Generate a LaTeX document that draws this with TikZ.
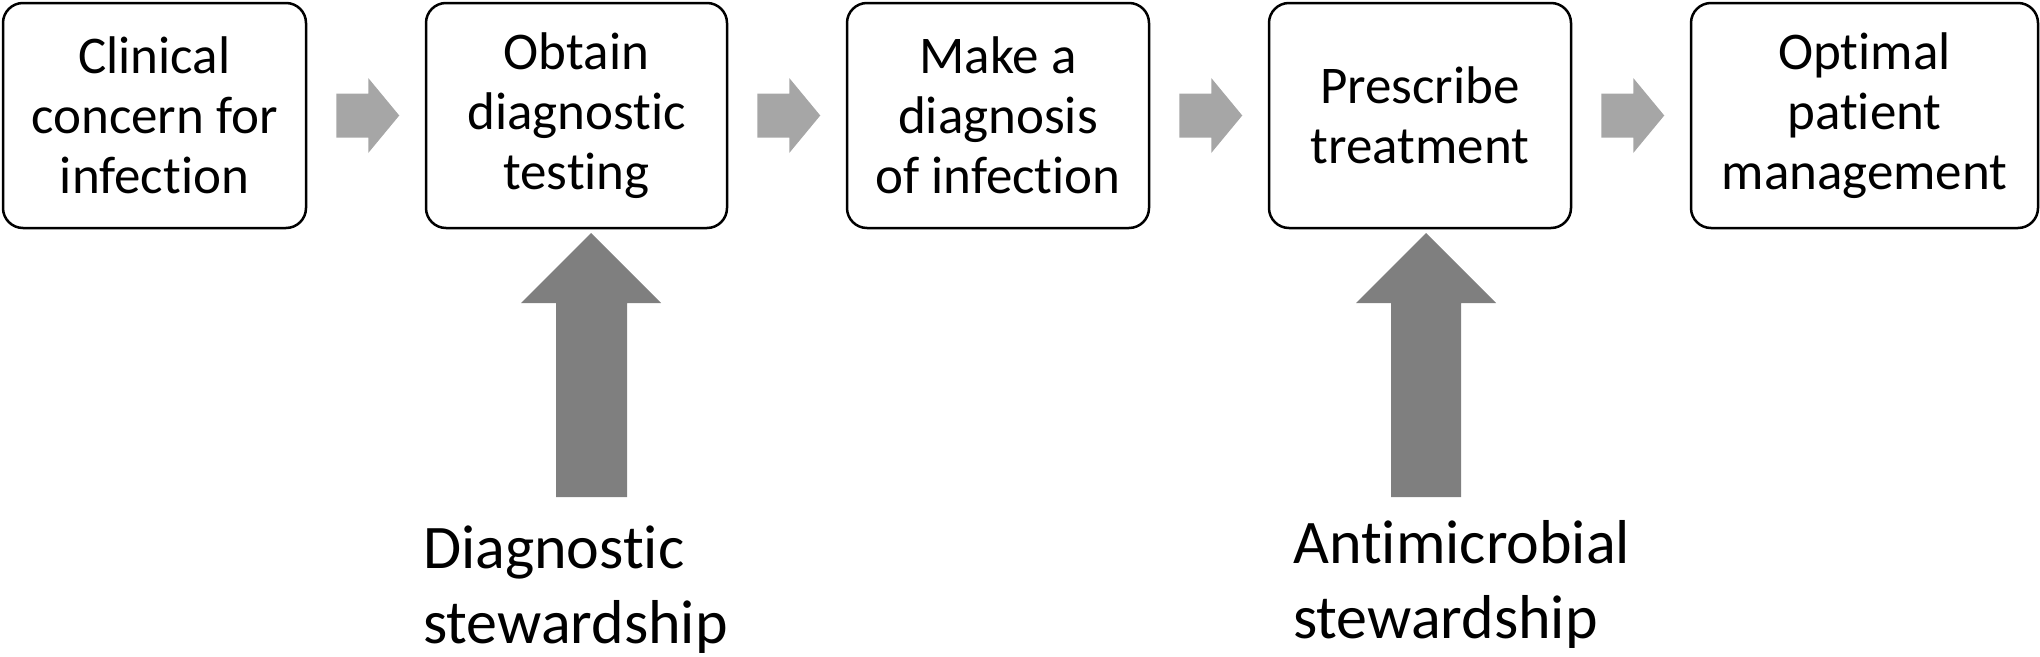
\documentclass[tikz,border=0pt]{standalone}
\usepackage{fontspec}
\setmainfont{Carlito}[Ligatures={NoCommon}]
\usetikzlibrary{calc}
\definecolor{smallarrow}{HTML}{A6A6A6}
\definecolor{bigarrow}{HTML}{7F7F7F}
\tikzset{
  stepbox/.style={draw=black, line width=2.5pt, rounded corners=20pt, fill=white,
    inner sep=0pt, align=center, font=\fontsize{53}{60}\selectfont},
  sidelabel/.style={inner sep=0pt, align=left, font=\fontsize{62}{75}\selectfont},
  smallfill/.style={fill=smallarrow, draw=none},
  bigfill/.style={fill=bigarrow, draw=none}
}
\begin{document}
\begin{tikzpicture}[x=1pt, y=-1pt]
\useasboundingbox (0,0) rectangle (2040,656);
% boxes
\node[stepbox, minimum width=303pt, minimum height=225pt] (b1) at (154.5,115.5) {Clinical\\concern for\\infection};
\node[stepbox, minimum width=301pt, minimum height=225pt] (b2) at (576.5,115.5) {Obtain\\diagnostic\\testing};
\node[stepbox, minimum width=302pt, minimum height=225pt] (b3) at (998,115.5) {Make a\\diagnosis\\of infection};
\node[stepbox, minimum width=302pt, minimum height=225pt] (b4) at (1420,115.5) {Prescribe\\treatment};
\node[stepbox, minimum width=347pt, minimum height=225pt] (b5) at (1864.5,115.5) {Optimal\\patient\\management};
% small arrows between boxes
\foreach \a/\b in {b1/b2, b2/b3, b3/b4, b4/b5}{
  \coordinate (s) at ($(\a.east)+(29,0)$);
  \fill[smallfill] ($(s)+(0,-22)$) -- ($(s)+(32,-22)$) -- ($(s)+(32,-37.5)$) -- ($(s)+(63,0)$)
     -- ($(s)+(32,37.5)$) -- ($(s)+(32,22)$) -- ($(s)+(0,22)$) -- cycle;
}
% labels
\node[sidelabel, anchor=base west] (l1) at (423,643) {Diagnostic\\stewardship};
\node[sidelabel, anchor=base west] (l2) at (1293,638) {Antimicrobial\\stewardship};
% big arrows
\coordinate (t1) at (591,233);
\fill[bigfill] (t1) -- ($(t1)+(70,70)$) -- ($(t1)+(36,70)$) -- ($(t1)+(36,264)$) -- ($(t1)+(-35,264)$)
   -- ($(t1)+(-35,70)$) -- ($(t1)+(-70,70)$) -- cycle;
\coordinate (t2) at (1426,233);
\fill[bigfill] (t2) -- ($(t2)+(70,70)$) -- ($(t2)+(35,70)$) -- ($(t2)+(35,264)$) -- ($(t2)+(-35,264)$)
   -- ($(t2)+(-35,70)$) -- ($(t2)+(-70,70)$) -- cycle;
\end{tikzpicture}
\end{document}
